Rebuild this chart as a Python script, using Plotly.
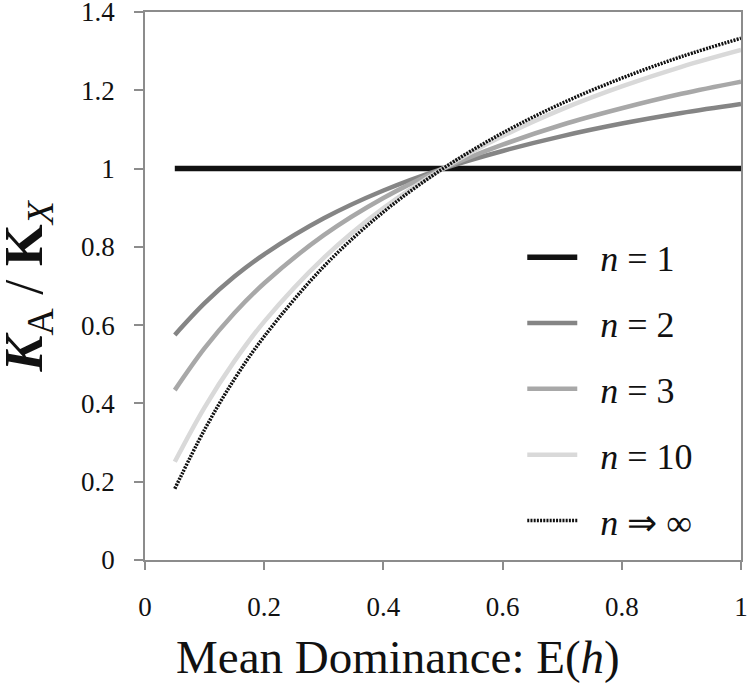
import plotly.graph_objects as go

# mean dominance E(h) sample points
h = [0.05, 0.1, 0.15, 0.2, 0.3, 0.4, 0.5, 0.6, 0.7, 0.8, 0.9, 1.0]

# K_A / K_X
n1 = [1.0, 1.0, 1.0, 1.0, 1.0, 1.0, 1.0, 1.0, 1.0, 1.0, 1.0, 1.0]
n2 = [0.575, 0.656, 0.724, 0.781, 0.873, 0.944, 1.0, 1.045, 1.083, 1.115, 1.142, 1.165]
n3 = [0.434, 0.541, 0.631, 0.707, 0.830, 0.925, 1.0, 1.061, 1.112, 1.154, 1.191, 1.222]
n10 = [0.251, 0.390, 0.508, 0.609, 0.772, 0.899, 1.0, 1.083, 1.152, 1.210, 1.260, 1.303]
ninf = [0.182, 0.333, 0.462, 0.571, 0.750, 0.889, 1.0, 1.091, 1.167, 1.231, 1.286, 1.333]

x_ticks = [0, 0.2, 0.4, 0.6, 0.8, 1.0]
x_labels = ["0", "0.2", "0.4", "0.6", "0.8", "1"]
y_ticks = [0, 0.2, 0.4, 0.6, 0.8, 1.0, 1.2, 1.4]
y_labels = ["0", "0.2", "0.4", "0.6", "0.8", "1", "1.2", "1.4"]

SP = "\u00a0\u00a0"
series = [
    (SP + "<i>n</i> = 1", n1, dict(color="#111111", width=5.5)),
    (SP + "<i>n</i> = 2", n2, dict(color="#858585", width=4.5)),
    (SP + "<i>n</i> = 3", n3, dict(color="#a8a8a8", width=4.5)),
    (SP + "<i>n</i> = 10", n10, dict(color="#d9d9d9", width=4.5)),
    (SP + "<i>n</i> ⇒ ∞", ninf, dict(color="#111111", width=3.5, dash="2px,1.2px")),
]

FONT = "Liberation Serif, Times New Roman, serif"
AXIS_GREY = "#8c8c8c"

fig = go.Figure()
for i, (name, vals, line) in enumerate(series):
    fig.add_trace(go.Scatter(
        x=h, y=vals, name=name, mode="lines", line=dict(shape="spline", **line),
        legendgroup=str(i),
    ))

fig.update_layout(
    width=748,
    height=692,
    paper_bgcolor="white",
    plot_bgcolor="white",
    margin=dict(l=145, r=7, t=12, b=132, autoexpand=False),
    font=dict(family=FONT, color="#111111"),
    showlegend=True,
    legend=dict(
        x=0.633, y=0.607, xanchor="left", yanchor="top",
        font=dict(size=36, family=FONT, color="#111111"),
        tracegroupgap=16,
        itemwidth=50,
        bgcolor="rgba(0,0,0,0)",
    ),
)

fig.update_xaxes(
    range=[0, 1], tickvals=x_ticks, ticktext=x_labels, showgrid=False, zeroline=False,
    showline=True, linecolor=AXIS_GREY, linewidth=1.5, mirror=True,
    ticks="outside", ticklen=8, tickcolor=AXIS_GREY, tickwidth=1.5,
    tickfont=dict(size=27, family=FONT, color="#111111"), ticklabelstandoff=14,
    ticklabeloverflow="allow",
)
fig.update_yaxes(
    range=[0, 1.40001], tickvals=y_ticks, ticktext=y_labels, showgrid=False, zeroline=False,
    showline=True, linecolor=AXIS_GREY, linewidth=1.5, mirror=True,
    ticks="outside", ticklen=9, tickcolor=AXIS_GREY, tickwidth=1.5,
    tickfont=dict(size=27, family=FONT, color="#111111"), ticklabelstandoff=14,
    ticklabeloverflow="allow",
)

fig.add_annotation(
    text="Mean Dominance: E(<i>h</i>)",
    xref="paper", yref="paper", x=0.4237, y=0, xanchor="center", yanchor="top",
    yshift=-69, showarrow=False, font=dict(size=47, family=FONT, color="#111111"),
)
fig.add_annotation(
    text="<b><i>K</i></b><sub>A</sub> / <b>K</b><sub><i>X</i></sub>",
    xref="paper", yref="paper", x=0, y=0.5, xanchor="right", yanchor="middle",
    xshift=-83, textangle=-90, showarrow=False,
    font=dict(size=54, family=FONT, color="#111111"),
)

fig.write_html("out.html", config={"displayModeBar": False},
               post_script="document.body.style.margin='0';")
